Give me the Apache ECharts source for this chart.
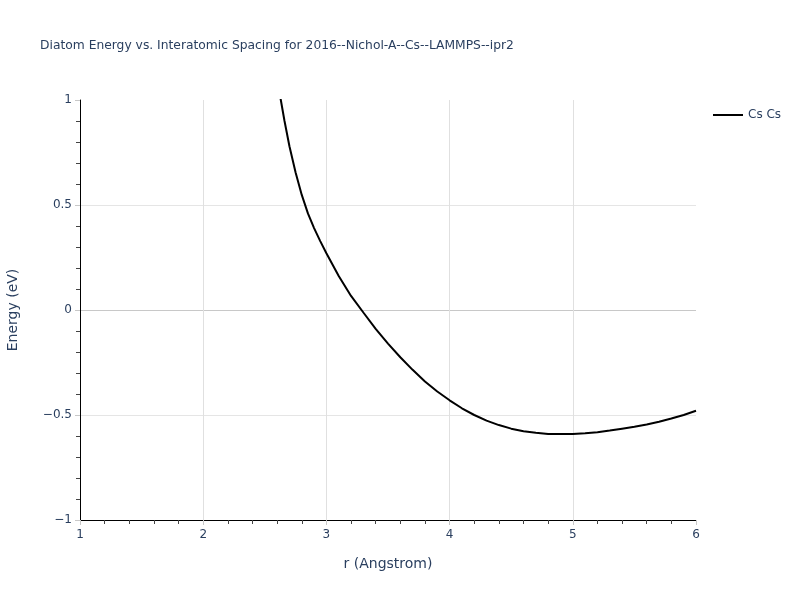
<!DOCTYPE html>
<html>
<head>
<meta charset="utf-8">
<script src="https://cdn.jsdelivr.net/npm/echarts@6/dist/echarts.min.js"></script>
<style>html,body{margin:0;padding:0;background:#fff}#c{width:800px;height:600px}</style>
</head>
<body>
<div id="c"></div>
<script>
var titleText = "Diatom Energy vs. Interatomic Spacing for 2016--Nichol-A--Cs--LAMMPS--ipr2";
var seriesName = "Cs Cs";
var rValues = [2.6, 2.63, 2.66, 2.7, 2.75, 2.8, 2.85, 2.9, 2.95, 3.0, 3.1, 3.2, 3.3, 3.4, 3.5, 3.6, 3.7, 3.8, 3.9, 4.0, 4.1, 4.2, 4.3, 4.4, 4.5, 4.6, 4.7, 4.8, 4.9, 5.0, 5.1, 5.2, 5.3, 5.4, 5.5, 5.6, 5.7, 5.8, 5.9, 6.0];
var energyValues = [1.1, 1.0, 0.9, 0.78, 0.655, 0.548, 0.46, 0.39, 0.328, 0.27, 0.162, 0.067, -0.012, -0.09, -0.16, -0.225, -0.285, -0.34, -0.388, -0.43, -0.468, -0.5, -0.527, -0.548, -0.565, -0.577, -0.585, -0.59, -0.591, -0.59, -0.587, -0.582, -0.574, -0.565, -0.556, -0.545, -0.532, -0.517, -0.5, -0.48];
var xTicks = [1, 2, 3, 4, 5, 6];
var yTicks = [-1, -0.5, 0, 0.5, 1];

var data = rValues.map(function (r, i) { return [r, energyValues[i]]; });
var txt = '#2a3f5f';
var ff = 'DejaVu Sans, Verdana, sans-serif';
var chart = echarts.init(document.getElementById('c'), null, {renderer: 'canvas'});
chart.setOption({
  animation: false,
  backgroundColor: '#fff',
  title: {
    text: titleText, left: 40, top: 40, padding: 0,
    textStyle: {fontFamily: ff, fontSize: 12.3, fontWeight: 'normal', color: txt}
  },
  legend: {
    data: [{name: seriesName, icon: 'path://M0,0 L30,0 L30,2 L0,2 Z'}],
    left: 713, top: 109, padding: 0, itemWidth: 30, itemHeight: 2, itemGap: 5,
    textStyle: {fontFamily: ff, fontSize: 12, color: txt}
  },
  grid: {left: 80, right: 104, top: 100, bottom: 80, containLabel: false, outerBoundsMode: 'none'},
  xAxis: {
    type: 'value', min: xTicks[0], max: xTicks[xTicks.length - 1], interval: 1,
    name: 'r (Angstrom)', nameLocation: 'middle', nameGap: 37,
    nameTextStyle: {fontFamily: ff, fontSize: 14, color: txt},
    axisLine: {show: true, onZero: false, lineStyle: {color: '#000', width: 1}},
    axisTick: {show: true, inside: false, length: 5, lineStyle: {color: '#c8c8c8', width: 1}},
    minorTick: {show: true, splitNumber: 5, length: 4, lineStyle: {color: '#444', width: 1}},
    axisLabel: {margin: 9, fontFamily: ff, fontSize: 12, color: txt},
    splitLine: {show: true, showMinLine: false, showMaxLine: false, lineStyle: {color: '#e0e0e0', width: 1}}
  },
  yAxis: {
    type: 'value', min: yTicks[0], max: yTicks[yTicks.length - 1], interval: 0.5,
    name: 'Energy (eV)', nameLocation: 'middle', nameGap: 60,
    nameTextStyle: {fontFamily: ff, fontSize: 14, color: txt},
    axisLine: {show: true, onZero: false, lineStyle: {color: '#000', width: 1}},
    axisTick: {show: true, inside: false, length: 5, lineStyle: {color: '#c8c8c8', width: 1}},
    minorTick: {show: true, splitNumber: 5, length: 4, lineStyle: {color: '#444', width: 1}},
    axisLabel: {margin: 8, fontFamily: ff, fontSize: 12, color: txt,
      formatter: function (v) { return String(v).replace('-', '\u2212'); }},
    splitLine: {show: true, showMinLine: false, showMaxLine: false, lineStyle: {color: ['#e5e5e5', '#c8c8c8', '#e5e5e5', '#e5e5e5'], width: 1}}
  },
  series: [{
    name: seriesName, type: 'line', data: data, showSymbol: false, symbol: 'none',
    clip: true, lineStyle: {color: '#000', width: 2}, itemStyle: {color: '#000'}
  }]
});
</script>
</body>
</html>
